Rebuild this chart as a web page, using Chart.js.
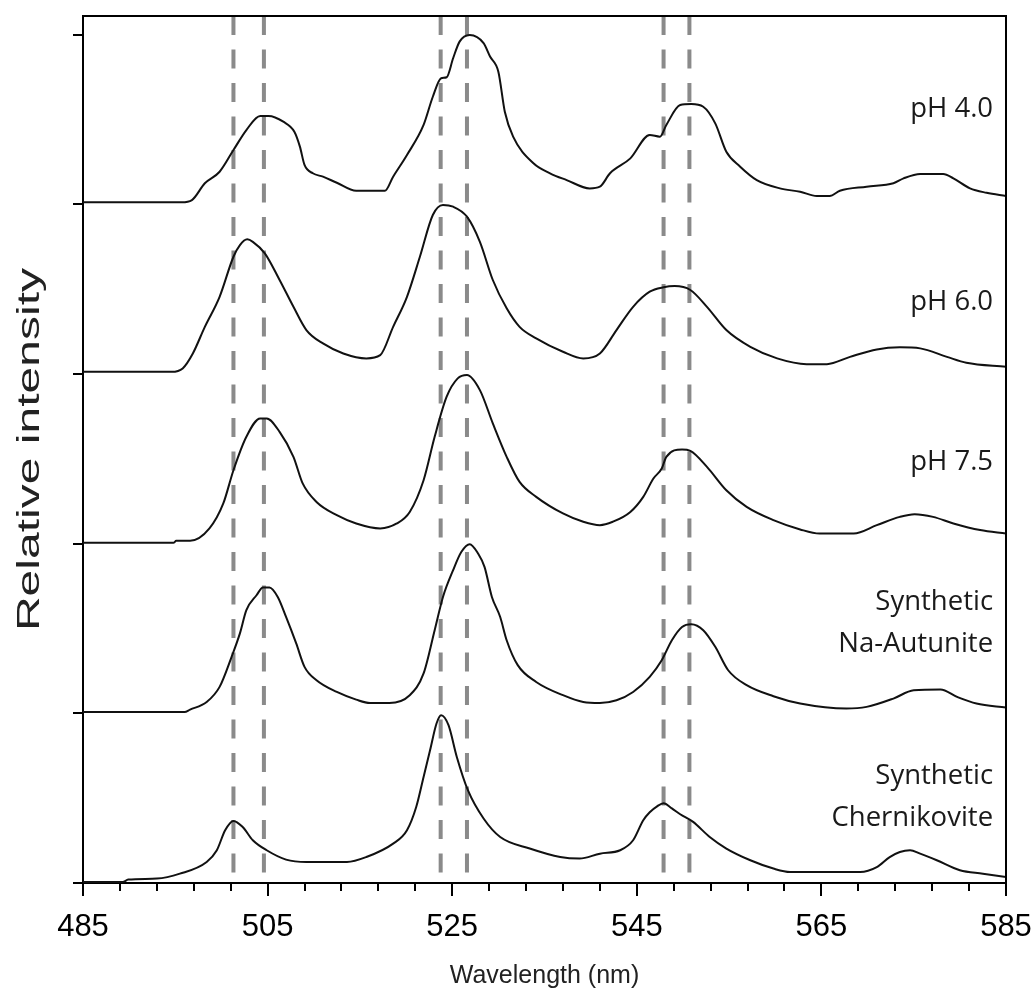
<!DOCTYPE html>
<html>
<head>
<meta charset="utf-8">
<script src="https://cdn.jsdelivr.net/npm/chart.js@4.4.1/dist/chart.umd.min.js"></script>
<style>
  html, body { margin: 0; padding: 0; background: #fff; }
  #wrap { width: 1036px; height: 996px; position: relative; }
</style>
</head>
<body>
<div id="wrap"><canvas id="c"></canvas></div>
<script>
// ---- Data (wavelength nm, relative intensity above each trace's own baseline) ----
const seriesNames = ['pH 4.0', 'pH 6.0', 'pH 7.5', 'Synthetic Na-Autunite', 'Synthetic Chernikovite'];
const seriesOffsets = [4, 3, 2, 1, 0];

const pH40 = [[485,0.012],[495.7,0.012],[496.8,0.025],[498.2,0.124],[499.8,0.192],[501.3,0.320],[502.7,0.438],[504.2,0.521],[505.1,0.521],[506.7,0.487],[507.9,0.428],[508.5,0.340],[509.0,0.232],[509.9,0.183],[511.0,0.163],[512.5,0.127],[514.6,0.080],[517.7,0.080],[518.6,0.163],[520.1,0.291],[521.9,0.468],[522.9,0.634],[523.8,0.743],[524.4,0.749],[525.1,0.861],[525.8,0.959],[526.9,0.998],[528.4,0.950],[529.1,0.871],[530.0,0.782],[530.7,0.546],[531.6,0.399],[533.8,0.242],[535.6,0.183],[537.4,0.143],[539.9,0.094],[541.0,0.104],[542.1,0.183],[544.3,0.271],[546.4,0.409],[547.5,0.399],[548.2,0.468],[549.7,0.585],[550.9,0.591],[552.2,0.575],[553.5,0.477],[554.7,0.310],[556.2,0.222],[558.0,0.143],[560.5,0.094],[562.7,0.074],[564.5,0.049],[565.9,0.049],[567.0,0.080],[569.9,0.104],[572.8,0.124],[573.9,0.153],[575.7,0.179],[578.2,0.179],[579.3,0.153],[581.1,0.094],[582.9,0.068],[585,0.049]];

const pH60 = [[485,0.013],[494.6,0.013],[495.8,0.033],[496.9,0.121],[498.2,0.278],[499.8,0.455],[501.3,0.691],[502.0,0.760],[502.8,0.794],[503.4,0.779],[504.7,0.711],[506.3,0.554],[507.8,0.396],[509.2,0.259],[511.0,0.180],[513.2,0.121],[515.7,0.092],[517.2,0.111],[518.6,0.278],[520.1,0.455],[521.5,0.691],[522.9,0.937],[524.0,0.996],[525.1,0.986],[526.6,0.927],[528.0,0.779],[529.4,0.554],[530.9,0.387],[532.3,0.278],[534.1,0.210],[537.0,0.131],[539.2,0.092],[541.0,0.121],[542.8,0.259],[544.6,0.396],[546.4,0.485],[547.9,0.511],[549.1,0.518],[550.8,0.495],[552.6,0.396],[554.7,0.259],[557.3,0.160],[560.2,0.092],[563.4,0.058],[565.6,0.058],[568.1,0.101],[571.0,0.145],[573.5,0.157],[575.7,0.151],[578.6,0.101],[580.7,0.066],[585,0.042]];

const pH75 = [[485,0.005],[494.8,0.005],[495.1,0.017],[496.6,0.017],[498.7,0.090],[500.2,0.237],[501.3,0.433],[502.7,0.630],[504.2,0.738],[504.9,0.738],[506.3,0.659],[507.8,0.512],[508.8,0.355],[510.3,0.246],[512.5,0.168],[514.6,0.119],[517.2,0.090],[519.0,0.119],[520.4,0.187],[521.9,0.374],[523.1,0.630],[524.4,0.866],[525.6,0.974],[526.6,0.994],[528.0,0.905],[529.4,0.709],[530.9,0.512],[532.3,0.364],[534.1,0.276],[537.0,0.178],[539.2,0.129],[541.0,0.109],[542.4,0.129],[544.3,0.187],[545.7,0.276],[546.8,0.384],[547.7,0.443],[548.2,0.512],[549.9,0.555],[550.8,0.547],[552.6,0.453],[554.7,0.315],[556.9,0.217],[559.8,0.139],[562.7,0.084],[564.8,0.060],[568.5,0.060],[571.0,0.109],[573.5,0.158],[575.1,0.174],[577.1,0.158],[579.3,0.119],[582.2,0.080],[585,0.060]];

const naAutunite = [[485,0.008],[496.0,0.008],[496.6,0.022],[498.4,0.067],[499.8,0.156],[501.1,0.333],[502.0,0.471],[502.7,0.608],[503.8,0.696],[504.5,0.742],[505.2,0.742],[506.1,0.686],[507.0,0.568],[508.1,0.412],[509.0,0.274],[510.3,0.195],[512.5,0.126],[514.6,0.081],[516.1,0.061],[518.2,0.061],[520.4,0.107],[521.9,0.235],[523.1,0.490],[524.0,0.686],[525.1,0.844],[526.0,0.952],[526.9,0.997],[527.8,0.942],[528.5,0.863],[529.3,0.686],[530.2,0.568],[530.9,0.431],[532.1,0.284],[534.1,0.185],[537.0,0.107],[539.2,0.067],[541.0,0.061],[542.8,0.077],[544.6,0.126],[546.4,0.215],[547.7,0.313],[548.8,0.431],[549.9,0.509],[550.9,0.525],[552.2,0.490],[553.5,0.392],[554.9,0.254],[556.9,0.166],[559.8,0.101],[562.7,0.058],[567.7,0.028],[569.9,0.038],[572.8,0.087],[575.0,0.136],[577.9,0.140],[579.7,0.097],[581.8,0.058],[585,0.034]];

const chernikovite = [[485,0.006],[489.3,0.006],[489.9,0.020],[493.0,0.026],[495.5,0.055],[498.4,0.124],[499.5,0.193],[500.4,0.311],[501.3,0.366],[502.3,0.330],[503.4,0.252],[504.9,0.193],[507.0,0.138],[509.2,0.124],[513.6,0.124],[515.7,0.153],[518.6,0.232],[520.1,0.311],[521.1,0.448],[521.9,0.625],[522.6,0.782],[523.3,0.940],[523.8,0.989],[524.6,0.930],[525.5,0.743],[526.7,0.547],[528.4,0.380],[530.2,0.271],[533.4,0.203],[536.7,0.153],[538.8,0.144],[541.0,0.173],[543.2,0.193],[544.6,0.252],[545.7,0.370],[546.4,0.417],[547.2,0.452],[547.9,0.470],[548.8,0.440],[549.7,0.405],[551.1,0.360],[552.9,0.271],[554.7,0.203],[557.3,0.134],[559.8,0.085],[561.6,0.065],[569.2,0.065],[571.0,0.094],[572.4,0.153],[573.5,0.183],[574.6,0.193],[575.7,0.173],[577.5,0.134],[580.0,0.075],[582.5,0.055],[585,0.035]];

const referenceLines = [501.3, 504.6, 523.75, 526.6, 547.9, 550.7];
const xTickLabels = [485, 505, 525, 545, 565, 585];

// ---- Build datasets ----
const allSeries = [pH40, pH60, pH75, naAutunite, chernikovite];
const yMax = 5.11;

const datasets = [];
allSeries.forEach((s, i) => {
  datasets.push({
    label: seriesNames[i],
    data: s.map(p => ({ x: p[0], y: p[1] + seriesOffsets[i] })),
    borderColor: '#111',
    borderWidth: 2,
    pointRadius: 0,
    fill: false,
    cubicInterpolationMode: 'monotone',
    order: 1
  });
});
referenceLines.forEach(v => {
  datasets.push({
    label: 'ref ' + v,
    data: [{ x: v, y: yMax }, { x: v, y: 0 }],
    borderColor: '#8a8a8a',
    borderWidth: 4,
    borderDash: [19, 14.5],
    pointRadius: 0,
    fill: false,
    order: 2
  });
});

const traceLabels = [
  { lines: ['pH 4.0'], y: 4.517 },
  { lines: ['pH 6.0'], y: 3.377 },
  { lines: ['pH 7.5'], y: 2.433 },
  { lines: ['Synthetic', 'Na-Autunite'], y: 1.608 },
  { lines: ['Synthetic', 'Chernikovite'], y: 0.582 }
];

const framePlugin = {
  id: 'frame',
  afterDraw(chart) {
    const { ctx, chartArea: a, scales } = chart;
    ctx.save();
    ctx.strokeStyle = '#000';
    ctx.lineWidth = 2;
    ctx.beginPath();
    ctx.moveTo(a.left, a.top);
    ctx.lineTo(a.right, a.top);
    ctx.lineTo(a.right, a.bottom);
    ctx.stroke();
    // longer major ticks at labelled positions
    ctx.beginPath();
    xTickLabels.forEach(v => {
      const px = Math.round(scales.x.getPixelForValue(v));
      ctx.moveTo(px, a.bottom);
      ctx.lineTo(px, a.bottom + 13);
    });
    ctx.stroke();
    ctx.restore();
  }
};

const yTitlePlugin = {
  id: 'yTitle',
  afterDraw(chart) {
    const { ctx, chartArea: a } = chart;
    ctx.save();
    ctx.translate(30, (a.top + a.bottom) / 2);
    ctx.rotate(-Math.PI / 2);
    ctx.scale(1.55, 1);
    ctx.fillStyle = '#222';
    ctx.font = '31px "Liberation Sans", Arial, sans-serif';
    ctx.textAlign = 'center';
    ctx.textBaseline = 'middle';
    ctx.fillText('Relative intensity', 0, 0);
    ctx.restore();
  }
};

const labelPlugin = {
  id: 'traceLabels',
  afterDatasetsDraw(chart) {
    const { ctx, scales } = chart;
    ctx.save();
    ctx.fillStyle = '#1a1a1a';
    ctx.font = '27.5px "Open Sans"';
    ctx.textAlign = 'right';
    ctx.textBaseline = 'alphabetic';
    const xr = scales.x.getPixelForValue(583.6);
    traceLabels.forEach(l => {
      const y0 = scales.y.getPixelForValue(l.y);
      l.lines.forEach((t, k) => ctx.fillText(t, xr, y0 + k * 42));
    });
    ctx.restore();
  }
};

new Chart(document.getElementById('c'), {
  type: 'line',
  data: { datasets },
  options: {
    responsive: true,
    maintainAspectRatio: false,
    animation: false,
    layout: { padding: { top: 16, right: 0, left: 0, bottom: 0 } },
    plugins: { legend: { display: false }, tooltip: { enabled: false } },
    scales: {
      x: {
        type: 'linear',
        min: 485, max: 585,
        border: { display: true, color: '#000', width: 2 },
        grid: { display: true, drawOnChartArea: false, drawTicks: true, tickLength: 8, color: '#000', lineWidth: 2 },
        ticks: {
          stepSize: 4, autoSkip: false, maxRotation: 0, color: '#000', padding: 18,
          font: { family: '"Liberation Sans", Arial, sans-serif', size: 31 },
          callback: v => xTickLabels.includes(v) ? String(v) : ''
        },
        title: { display: true, text: 'Wavelength (nm)', color: '#222', padding: { top: 0, bottom: 5 },
          font: { family: '"Liberation Sans", Arial, sans-serif', size: 25 } },
        afterFit: s => { s.height = 113; s.paddingRight = 30; s.paddingLeft = 0; }
      },
      y: {
        type: 'linear',
        min: 0, max: yMax,
        border: { display: true, color: '#000', width: 2 },
        grid: { display: true, drawOnChartArea: false, drawTicks: true, tickLength: 10, color: '#000', lineWidth: 2 },
        ticks: { stepSize: 1, display: false, includeBounds: false },
        title: { display: false, text: 'Relative intensity' },
        afterFit: s => { s.width = 83; s.paddingTop = 0; s.paddingBottom = 0; }
      }
    }
  },
  plugins: [framePlugin, yTitlePlugin, labelPlugin]
});
</script>
</body>
</html>
